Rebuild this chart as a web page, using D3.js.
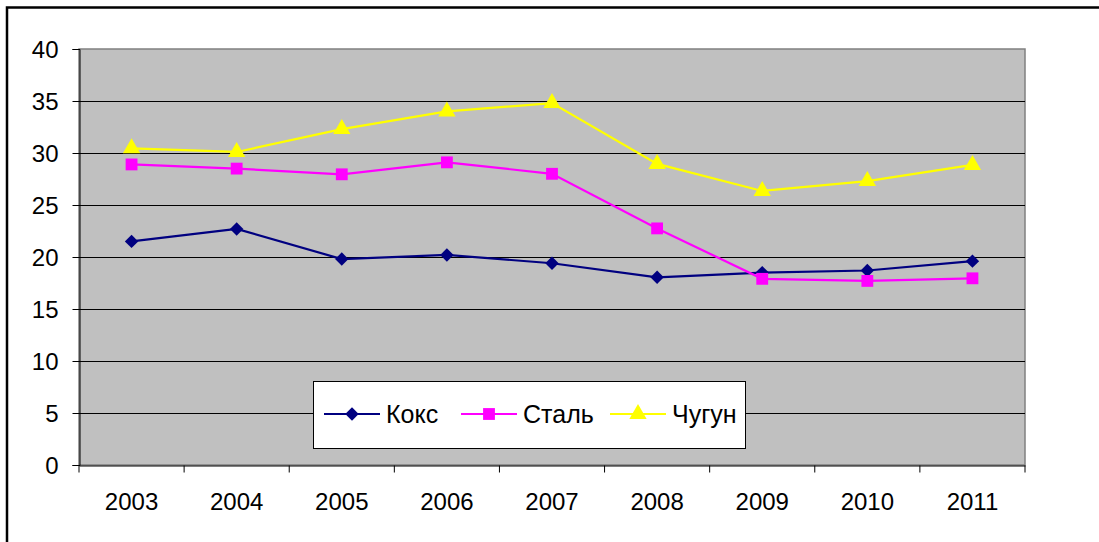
<!DOCTYPE html>
<html><head><meta charset="utf-8">
<script src="https://cdn.jsdelivr.net/npm/d3@7"></script>
<style>body{margin:0;background:#fff}svg{display:block}text{font-family:"Liberation Sans",Arial,sans-serif}</style>
</head><body><svg id="c" width="1099" height="542"></svg>
<script>
const years = ["2003","2004","2005","2006","2007","2008","2009","2010","2011"];
const koks  = [21.5, 22.7, 19.8, 20.2, 19.4, 18.05, 18.5, 18.7, 19.6];
const stal  = [28.9, 28.5, 27.95, 29.1, 28.0, 22.75, 17.9, 17.7, 17.95];
const chugun= [30.45, 30.1, 32.3, 34.0, 34.8, 28.95, 26.35, 27.3, 28.85];
const yTicks = [0,5,10,15,20,25,30,35,40];
const seriesNames = ["Кокс","Сталь","Чугун"];

const svg = d3.select("#c");
const L=79, R=1025, T=49, B=465;
svg.append("rect").attr("x",7).attr("y",7.5).attr("width",1200).attr("height",600)
  .attr("fill","none").attr("stroke","#000").attr("stroke-width",2.5);

const x = d3.scaleBand().domain(years).range([L,R]).padding(0);
const y = d3.scaleLinear().domain([0,40]).range([B,T]);

svg.append("rect").attr("x",L).attr("y",T).attr("width",R-L).attr("height",B-T)
  .attr("fill","#c0c0c0").attr("stroke","#808080").attr("stroke-width",1.5);

// gridlines
svg.append("g").selectAll("line").data(yTicks.filter(d=>d>0&&d<40)).join("line")
  .attr("x1",L).attr("x2",R).attr("y1",d=>Math.round(y(d))+0.5).attr("y2",d=>Math.round(y(d))+0.5)
  .attr("stroke","#000").attr("stroke-width",1);

// y axis
const ya = svg.append("g").attr("transform",`translate(${L+0.5},0)`)
  .call(d3.axisLeft(y).tickValues(yTicks).tickSize(7).tickPadding(14).tickFormat(d3.format("d")));
ya.select(".domain").attr("stroke","#000");
ya.selectAll(".tick line").attr("stroke","#000");
ya.selectAll("text").attr("font-size",24).attr("fill","#000").attr("dy","0.35em");

// x axis
const xa = svg.append("g").attr("transform",`translate(0,${B+0.5})`)
  .call(d3.axisBottom(x).tickSize(0).tickPadding(0));
xa.select(".domain").attr("stroke","#000");
xa.selectAll(".tick text").attr("font-size",24).attr("fill","#000").attr("dy",0).attr("y",44);
xa.append("g").selectAll("line").data(years.concat(["end"])).join("line")
  .attr("x1",(d,i)=>L+i*x.bandwidth()).attr("x2",(d,i)=>L+i*x.bandwidth())
  .attr("y1",0).attr("y2",7).attr("stroke","#000");

const line = d3.line().x((d,i)=>x(years[i])+x.bandwidth()/2).y(d=>y(d));
const cfg = [
  {data:koks, color:"#000080", sym:d3.symbolSquare, size:90, rot:45},
  {data:stal, color:"#ff00ff", sym:d3.symbolSquare, size:140, rot:0},
  {data:chugun, color:"#ffff00", sym:d3.symbolTriangle, size:130, rot:0}
];
cfg.forEach(c=>{
  svg.append("path").attr("d",line(c.data)).attr("fill","none").attr("stroke",c.color).attr("stroke-width",2.2);
});
cfg.forEach(c=>{
  svg.append("g").selectAll("path").data(c.data).join("path")
    .attr("transform",(d,i)=>`translate(${x(years[i])+x.bandwidth()/2},${y(d)}) rotate(${c.rot})`)
    .attr("d",d3.symbol().type(c.sym).size(c.size)).attr("fill",c.color);
});

// legend
const lg = svg.append("g");
lg.append("rect").attr("x",313.5).attr("y",381.5).attr("width",432).attr("height",67)
  .attr("fill","#fff").attr("stroke","#000").attr("stroke-width",1);
const lx = [324, 461, 610];
cfg.forEach((c,i)=>{
  const ly = 414;
  lg.append("line").attr("x1",lx[i]).attr("x2",lx[i]+56).attr("y1",ly).attr("y2",ly)
    .attr("stroke",c.color).attr("stroke-width",2.2);
  lg.append("path").attr("transform",`translate(${lx[i]+28},${ly}) rotate(${c.rot})`)
    .attr("d",d3.symbol().type(c.sym).size(c.size)).attr("fill",c.color);
  lg.append("text").attr("x",lx[i]+62).attr("y",ly).attr("dy","0.35em")
    .attr("font-size",25).attr("fill","#000").text(seriesNames[i]);
});
</script></body></html>
